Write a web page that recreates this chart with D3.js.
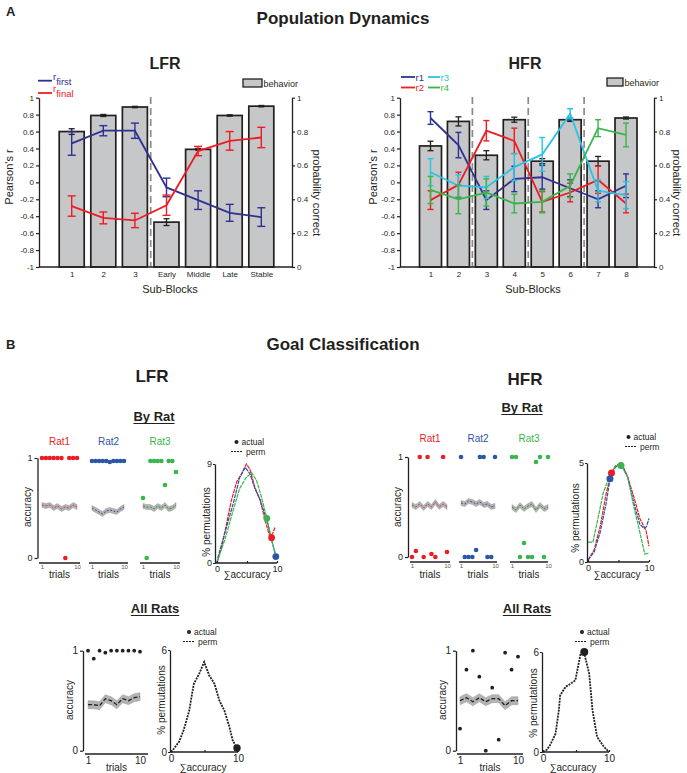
<!DOCTYPE html>
<html><head><meta charset="utf-8">
<script src="https://cdn.jsdelivr.net/npm/d3@7"></script>
<style>body{margin:0;background:#fff}svg{display:block}</style>
</head><body><svg id="c" width="687" height="773"></svg>
<script>
// ---------------- DATA ----------------
// A: LFR
const lfrCats = ["1","2","3","Early","Middle","Late","Stable"];
const lfrBehavior = [0.80, 0.895, 0.945, 0.265, 0.695, 0.895, 0.95];
const lfrBehaviorErr = [0.017, 0.006, 0.004, 0.02, 0.005, 0.004, 0.004];
const lfrFirst = [0.46, 0.61, 0.61, -0.06, -0.21, -0.36, -0.41];
const lfrFirstErr = [0.14, 0.06, 0.09, 0.11, 0.11, 0.1, 0.11];
const lfrFinal = [-0.28, -0.42, -0.45, -0.27, 0.37, 0.49, 0.53];
const lfrFinalErr = [0.12, 0.07, 0.085, 0.12, 0.055, 0.11, 0.12];
// A: HFR
const hfrCats = ["1","2","3","4","5","6","7","8"];
const hfrBehavior = [0.715, 0.86, 0.66, 0.87, 0.625, 0.87, 0.625, 0.88];
const hfrBehaviorErr = [0.028, 0.027, 0.027, 0.015, 0.015, 0.01, 0.028, 0.006];
const hfrR1 = [0.76, 0.44, -0.21, 0.04, 0.06, -0.07, -0.2, -0.04];
const hfrR1Err = [0.075, 0.15, 0.11, 0.15, 0.14, 0.1, 0.1, 0.14];
const hfrR2 = [-0.21, -0.03, 0.61, 0.49, -0.23, -0.12, 0.03, -0.25];
const hfrR2Err = [0.11, 0.15, 0.12, 0.15, 0.12, 0.11, 0.16, 0.11];
const hfrR3 = [0.12, -0.04, -0.06, 0.18, 0.33, 0.81, -0.1, -0.15];
const hfrR3Err = [0.16, 0.13, 0.13, 0.16, 0.2, 0.06, 0.13, 0.16];
const hfrR4 = [-0.09, -0.2, -0.12, -0.25, -0.23, -0.04, 0.64, 0.56];
const hfrR4Err = [0.16, 0.17, 0.16, 0.11, 0.13, 0.14, 0.1, 0.14];
const pearsonTicks = [-1,-0.8,-0.6,-0.4,-0.2,0,0.2,0.4,0.6,0.8,1];
const probTicks = [0,0.2,0.4,0.6,0.8,1];

// B: LFR by rat (trials 1..10)
const trials = [1,2,3,4,5,6,7,8,9,10];
const lfrRat1Acc = [1,1,1,1,1,1,0,1,1,1];
const lfrRat2Acc = [0.97,0.97,0.97,0.97,0.97,0.96,0.97,0.97,0.97,0.97];
const lfrRat3Acc = [0.6,0,0.97,0.97,0.97,0.97,0.73,0.97,0.97,0.86];
const lfrRat1Perm = [0.53,0.52,0.53,0.5,0.52,0.49,0.51,0.5,0.53,0.51];
const lfrRat2Perm = [0.5,0.48,0.46,0.44,0.47,0.48,0.47,0.46,0.49,0.51];
const lfrRat3Perm = [0.52,0.51,0.51,0.49,0.52,0.5,0.53,0.49,0.5,0.53];
const lfrRedDistX = [0,0.8,1.6,2.4,3.3,4.1,4.9,5.5,6.3,7.2,8.0,8.8,9.3,9.7];
const lfrRedDistY = [0,1.5,3.6,5.7,7.4,8.1,9.0,8.5,6.9,5.7,3.9,2.4,2.7,3.3];
const lfrBlueDistX = [0,0.2,1.6,2.7,3.8,4.7,5.5,6.3,7.2,8.3,9.1,9.8];
const lfrBlueDistY = [0,0.6,3.3,5.4,7.8,8.7,8.1,6.8,5.7,3.9,2.1,0.6];
const lfrGreenDistX = [0,1.3,2.7,3.8,4.9,5.8,6.6,7.4,8.3,9.1,9.8];
const lfrGreenDistY = [0.1,2.1,4.8,6.8,7.8,8.2,7.5,6.0,4.1,2.1,0.7];
const lfrActualX = [9.1, 9.8, 8.3];   // rat1, rat2, rat3
const lfrActualY = [2.3, 0.58, 4.06];

// B: HFR by rat
const hfrRat1Acc = [0,0.06,1,0,1,0.03,0,null,1,0.05];
const hfrRat2Acc = [1,0,0,0,0.07,1,1,0,0,1];
const hfrRat3Acc = [1,1,0,0.14,0,0,0.95,1,0,1];
const hfrRat1Perm = [0.52,0.5,0.53,0.49,0.53,0.5,0.55,0.5,0.53,0.5];
const hfrRat2Perm = [0.54,0.53,0.56,0.55,0.53,0.55,0.52,0.53,0.5,0.51];
const hfrRat3Perm = [0.5,0.47,0.52,0.48,0.51,0.53,0.47,0.52,0.48,0.5];
const hfrRedDistX = [0,1,2,3,3.85,4.5,5.5,6.5,7.5,8.5,9.5,10];
const hfrRedDistY = [0.1,0.6,1.8,3.5,4.5,4.85,5.0,4.3,3.3,2.2,1.6,0.8];
const hfrBlueDistX = [0,1,2,3,3.6,4.5,5.5,6.5,7.5,8.5,9.2,9.6,10];
const hfrBlueDistY = [0.1,0.5,1.5,3.0,4.2,4.8,4.9,4.3,3.0,1.9,1.7,1.8,2.2];
const hfrGreenDistX = [0,0.8,1.5,2.5,3.5,4.5,5.4,6.5,7.5,8.5,9.3,10];
const hfrGreenDistY = [1.0,1.0,2.0,3.5,4.3,4.85,4.9,4.3,2.8,1.5,0.4,0.45];
const hfrActualX = [3.85, 3.6, 5.4];
const hfrActualY = [4.5, 4.2, 4.88];

// B: All rats
const lfrAllAcc = [1,0.92,1,0.98,1,1,1,1,1,0.99];
const lfrAllPerm = [0.46,0.46,0.45,0.52,0.5,0.46,0.52,0.5,0.53,0.54];
const lfrAllDistX = [0,0.15,1.2,1.9,2.7,3.4,4.2,4.95,5.7,6.2,6.5,7.2,8.0,8.7,9.2,9.7,10];
const lfrAllDistY = [0,0.05,0.6,1.3,2.4,4.0,4.6,5.3,4.5,4.2,4.0,3.05,2.4,1.5,0.7,0.3,0];
const lfrAllActual = [9.85, 0.24];
const hfrAllAcc = [0.22,0.81,1.0,0.74,0.0,0.63,0.11,0.98,0.81,0.94];
const hfrAllPerm = [0.5,0.53,0.49,0.53,0.49,0.52,0.52,0.45,0.5,0.5];
const hfrAllDistX = [0,0.6,1.1,1.9,2.4,2.6,3.4,4.2,4.9,5.2,5.7,6.2,7.0,7.5,8.2,9.2,10];
const hfrAllDistY = [0,0.14,0.43,1.1,2.5,3.4,3.9,4.1,4.3,4.9,5.9,6.0,4.7,2.5,0.9,0.33,0];
const hfrAllActual = [6.25, 6.0];

// ---------------- DRAW ----------------
const FONT = '"Liberation Sans", Arial, Helvetica, sans-serif';
const INK = "#231f20";
const RED = "#ed1c24", NAVY = "#2e3192", CYAN = "#27c4e6", GREEN = "#39b54a";
const RBLUE = "#2b55a6";
const svg = d3.select("#c").attr("font-family", FONT);

function txt(x, y, s, o = {}) {
  const t = svg.append("text").attr("x", x).attr("y", y).text(s)
    .attr("font-size", o.size || 10).attr("text-anchor", o.anchor || "middle")
    .attr("fill", o.fill || INK);
  if (o.bold) t.attr("font-weight", "bold");
  if (o.rot != null) t.attr("transform", `rotate(${o.rot},${x},${y})`);
  if (o.underline) {
    const w = t.node().getComputedTextLength();
    const x0 = o.anchor === "start" ? x : x - w / 2;
    svg.append("line").attr("x1", x0).attr("x2", x0 + w).attr("y1", y + 2.5).attr("y2", y + 2.5)
      .attr("stroke", o.fill || INK).attr("stroke-width", 1.2);
  }
  return t;
}
function styleAxis(g, fs) {
  g.attr("font-family", FONT);
  g.selectAll("path.domain").attr("stroke", INK).attr("stroke-width", 1.3);
  g.selectAll(".tick line").attr("stroke", INK).attr("stroke-width", 1.2);
  g.selectAll(".tick text").attr("font-size", fs).attr("fill", INK);
}
function hline(x1, x2, y, w = 1.3, c = INK) {
  svg.append("line").attr("x1", x1).attr("x2", x2).attr("y1", y).attr("y2", y).attr("stroke", c).attr("stroke-width", w);
}
function vline(x, y1, y2, w = 1.3, c = INK) {
  svg.append("line").attr("x1", x).attr("x2", x).attr("y1", y1).attr("y2", y2).attr("stroke", c).attr("stroke-width", w);
}

// titles
txt(6, 16, "A", { size: 13, bold: true, anchor: "start" });
txt(343, 24, "Population Dynamics", { size: 17, bold: true });
txt(6, 349, "B", { size: 13, bold: true, anchor: "start" });
txt(343, 350, "Goal Classification", { size: 17, bold: true });

function topPanel(cfg) {
  const g = svg.append("g");
  const x = d3.scalePoint().domain(cfg.cats).range(cfg.xr);
  const yL = d3.scaleLinear().domain([-1, 1]).range([267, 97.7]);
  const yR = d3.scaleLinear().domain([0, 1]).range([267, 97.7]);
  // bars
  g.selectAll("rect.bar").data(cfg.cats).join("rect")
    .attr("x", d => x(d) - cfg.bw / 2).attr("width", cfg.bw)
    .attr("y", (d, i) => yR(cfg.beh[i])).attr("height", (d, i) => yR(0) - yR(cfg.beh[i]))
    .attr("fill", "#c6c7c8").attr("stroke", INK).attr("stroke-width", 1.7);
  cfg.cats.forEach((c, i) => {
    const cx = x(c), a = yR(cfg.beh[i] + cfg.behErr[i]), b = yR(cfg.beh[i] - cfg.behErr[i]);
    g.append("line").attr("x1", cx).attr("x2", cx).attr("y1", a).attr("y2", b).attr("stroke", INK).attr("stroke-width", 1.3);
    [a, b].forEach(yy => g.append("line").attr("x1", cx - 3).attr("x2", cx + 3).attr("y1", yy).attr("y2", yy).attr("stroke", INK).attr("stroke-width", 1.3));
  });
  // separators
  cfg.seps.forEach(i => {
    const xm = (x(cfg.cats[i]) + x(cfg.cats[i + 1])) / 2;
    g.append("line").attr("x1", xm).attr("x2", xm).attr("y1", 97).attr("y2", 267)
      .attr("stroke", "#8a8a8a").attr("stroke-width", 1.7).attr("stroke-dasharray", "7,4");
  });
  // series
  cfg.series.forEach(s => {
    const line = d3.line().x((d, i) => x(cfg.cats[i])).y(d => yL(d));
    g.append("path").attr("d", line(s.vals)).attr("fill", "none").attr("stroke", s.color).attr("stroke-width", 1.8);
    s.vals.forEach((v, i) => {
      const cx = x(cfg.cats[i]), a = yL(v + s.errs[i]), b = yL(v - s.errs[i]);
      g.append("line").attr("x1", cx).attr("x2", cx).attr("y1", a).attr("y2", b).attr("stroke", s.color).attr("stroke-width", 1.4);
      [a, b].forEach(yy => g.append("line").attr("x1", cx - cfg.cap).attr("x2", cx + cfg.cap).attr("y1", yy).attr("y2", yy).attr("stroke", s.color).attr("stroke-width", 1.4));
    });
  });
  // axes
  const la = g.append("g").attr("transform", `translate(${cfg.lx},0)`)
    .call(d3.axisLeft(yL).tickValues(pearsonTicks).tickSize(3).tickSizeOuter(0).tickPadding(2).tickFormat(d => String(+d.toFixed(1))));
  styleAxis(la, 8);
  const ra = g.append("g").attr("transform", `translate(${cfg.rx},0)`)
    .call(d3.axisRight(yR).tickValues(probTicks).tickSize(3).tickSizeOuter(0).tickPadding(2).tickFormat(d => String(+d.toFixed(1))));
  styleAxis(ra, 8);
  const ba = g.append("g").attr("transform", `translate(0,267)`)
    .call(d3.axisBottom(x).tickSize(0).tickPadding(4));
  ba.select("path.domain").remove();
  styleAxis(ba, 8);
  hline(cfg.lx, cfg.rx, 267, 1.4);
  // labels
  txt(cfg.titleX, 69, cfg.title, { size: 16, bold: true });
  txt(cfg.prX, 177, "Pearson's r", { size: 11, rot: -90 });
  txt(cfg.pcX, 193, "probability correct", { size: 11, rot: 90 });
  txt(cfg.sbX, 293, "Sub-Blocks", { size: 11 });
  // behavior legend
  svg.append("rect").attr("x", cfg.behLeg[0]).attr("y", cfg.behLeg[1]).attr("width", cfg.behLeg[2]).attr("height", 8)
    .attr("fill", "#c6c7c8").attr("stroke", INK).attr("stroke-width", 1.3);
  txt(cfg.behLeg[0] + cfg.behLeg[2] + 1.5, cfg.behLeg[1] + 7.5, "behavior", { size: 9, anchor: "start" });
}

topPanel({
  cats: lfrCats, xr: [71.7, 261.3], bw: 25, cap: 4, beh: lfrBehavior, behErr: lfrBehaviorErr,
  seps: [2], lx: 39, rx: 292, title: "LFR", titleX: 165, prX: 13, pcX: 313, sbX: 170,
  behLeg: [243, 79, 19],
  series: [{ vals: lfrFirst, errs: lfrFirstErr, color: NAVY }, { vals: lfrFinal, errs: lfrFinalErr, color: RED }]
});
topPanel({
  cats: hfrCats, xr: [430.5, 626], bw: 22, cap: 3, beh: hfrBehavior, behErr: hfrBehaviorErr,
  seps: [1, 3, 5], lx: 400, rx: 654, title: "HFR", titleX: 525, prX: 377, pcX: 673, sbX: 533,
  behLeg: [607, 78, 16],
  series: [{ vals: hfrR1, errs: hfrR1Err, color: NAVY }, { vals: hfrR2, errs: hfrR2Err, color: RED },
           { vals: hfrR3, errs: hfrR3Err, color: CYAN }, { vals: hfrR4, errs: hfrR4Err, color: GREEN }]
});
// LFR legend
hline(38, 52, 80.7, 1.8, NAVY);
hline(38, 52, 93, 1.8, RED);
{
  const t1 = txt(53, 80, "r", { size: 9.5, anchor: "start", fill: NAVY });
  t1.append("tspan").attr("dy", 5).attr("font-size", 9.5).text("first");
  const t2 = txt(53, 92, "r", { size: 9.5, anchor: "start", fill: RED });
  t2.append("tspan").attr("dy", 5).attr("font-size", 9.5).text("final");
}
// HFR legend
hline(401, 415, 77, 1.8, NAVY); txt(415.5, 80.5, "r1", { size: 9.5, anchor: "start", fill: NAVY });
hline(401, 415, 87.5, 1.8, RED); txt(415.5, 91, "r2", { size: 9.5, anchor: "start", fill: RED });
hline(428, 440, 77, 1.8, CYAN); txt(440.5, 80.5, "r3", { size: 9.5, anchor: "start", fill: CYAN });
hline(428, 440, 87.5, 1.8, GREEN); txt(440.5, 91, "r4", { size: 9.5, anchor: "start", fill: GREEN });

// ---- Section B headers
txt(152, 382, "LFR", { size: 17, bold: true });
txt(525, 385, "HFR", { size: 17, bold: true });
txt(154, 421, "By Rat", { size: 13, bold: true, underline: true });
txt(522, 412, "By Rat", { size: 13, bold: true, underline: true });
txt(155, 613, "All Rats", { size: 13, bold: true, underline: true });
txt(527, 613, "All Rats", { size: 13, bold: true, underline: true });

// trial plot
function trialPlot(cfg) {
  const x = d3.scaleLinear().domain([1, 10]).range(cfg.xr);
  const y = cfg.y;
  const pts = trials.map((t, i) => [t, cfg.perm[i]]);
  const area = d3.area().x(d => x(d[0])).y0(d => y(d[1] - cfg.band)).y1(d => y(d[1] + cfg.band));
  svg.append("path").attr("d", area(pts)).attr("fill", "#b3b3b3").attr("stroke", "#9a9a9a").attr("stroke-width", 0.5);
  svg.append("path").attr("d", d3.line().x(d => x(d[0])).y(d => y(d[1]))(pts)).attr("fill", "none")
    .attr("stroke", cfg.permColor).attr("stroke-width", cfg.permW || 1).attr("stroke-dasharray", cfg.permDash || "2,1.5");
  svg.append("g").selectAll("circle").data(trials.map((t, i) => [t, cfg.acc[i]]).filter(d => d[1] != null)).join("circle")
    .attr("cx", d => x(d[0])).attr("cy", d => y(d[1])).attr("r", cfg.r).attr("fill", cfg.color);
  // x axis
  const ax = svg.append("g").attr("transform", `translate(0,${cfg.axisY})`)
    .call(d3.axisBottom(x).tickValues([1, 10]).tickSize(0).tickPadding(cfg.tickPad || 2).tickFormat(d3.format("d")));
  ax.select("path.domain").remove();
  styleAxis(ax, cfg.tickFs);
  ax.selectAll(".tick text").attr("fill", cfg.tickFill || INK);
  hline(cfg.axisX[0], cfg.axisX[1], cfg.axisY, 1.4);
  txt((cfg.axisX[0] + cfg.axisX[1]) / 2, cfg.trialsY, "trials", { size: 10 });
  if (cfg.label) txt((cfg.axisX[0] + cfg.axisX[1]) / 2, cfg.label[1], cfg.label[0], { size: 10, fill: cfg.color });
}
function accAxis(xPos, y, fs, labX, labY) {
  const a = svg.append("g").attr("transform", `translate(${xPos},0)`)
    .call(d3.axisLeft(y).tickValues([0, 1]).tickSize(3).tickSizeOuter(0).tickPadding(2).tickFormat(d3.format("d")));
  styleAxis(a, fs);
  txt(labX, labY, "accuracy", { size: 10, rot: -90 });
}
function distPanel(cfg) {
  const x = d3.scaleLinear().domain([0, 10]).range(cfg.xr);
  const y = d3.scaleLinear().domain([0, cfg.ymax]).range(cfg.yr);
  cfg.curves.forEach(c => {
    const pts = c.xs.map((v, i) => [v, c.ys[i]]);
    svg.append("path").attr("d", d3.line().x(d => x(d[0])).y(d => y(d[1]))(pts)).attr("fill", "none")
      .attr("stroke", c.color).attr("stroke-width", c.w || 1.2).attr("stroke-dasharray", c.dash || null);
  });
  cfg.dots.forEach(d => svg.append("circle").attr("cx", x(d.x)).attr("cy", y(d.y)).attr("r", d.r).attr("fill", d.color));
  const ya = svg.append("g").attr("transform", `translate(${cfg.ax},0)`)
    .call(d3.axisLeft(y).tickValues([0, cfg.ymax]).tickSize(2).tickSizeOuter(0).tickPadding(1).tickFormat(d3.format("d")));
  styleAxis(ya, cfg.fs);
  const xa = svg.append("g").attr("transform", `translate(0,${cfg.yr[0]})`)
    .call(d3.axisBottom(x).tickValues([0, 5, 10]).tickSize(-2).tickSizeOuter(0).tickPadding(3).tickFormat(d => d === 5 ? "" : d));
  xa.select("path.domain").remove();
  styleAxis(xa, cfg.fs);
  hline(cfg.ax, cfg.xr[1], cfg.yr[0], 1.4);
  txt(cfg.pLab[0], cfg.pLab[1], "% permutations", { size: 10, rot: -90 });
  txt(cfg.sLab[0], cfg.sLab[1], "\u2211accuracy", { size: 10 });
  // legend
  const L = cfg.leg;
  svg.append("circle").attr("cx", L[0]).attr("cy", L[1]).attr("r", 2).attr("fill", INK);
  txt(L[0] + 5, L[1] + 3, "actual", { size: 8.5, anchor: "start" });
  svg.append("line").attr("x1", L[2]).attr("x2", L[2] + 12).attr("y1", L[1] + 9.5).attr("y2", L[1] + 9.5)
    .attr("stroke", INK).attr("stroke-width", 1.2).attr("stroke-dasharray", "2,1");
  txt(L[2] + 15, L[1] + 12.5, "perm", { size: 8.5, anchor: "start" });
}

// LFR by rat
const yLR = d3.scaleLinear().domain([0, 1]).range([558, 458]);
accAxis(37.5, yLR, 9, 31, 507);
const lfrRatCfg = [
  { acc: lfrRat1Acc, perm: lfrRat1Perm, color: RED, permColor: "#b5474c", xr: [42, 77], axisX: [39, 80], label: ["Rat1", 445] },
  { acc: lfrRat2Acc, perm: lfrRat2Perm, color: RBLUE, permColor: "#44579a", xr: [92, 124], axisX: [89, 128], label: ["Rat2", 445] },
  { acc: lfrRat3Acc, perm: lfrRat3Perm, color: GREEN, permColor: "#3f8a45", xr: [143, 176], axisX: [140, 180], label: ["Rat3", 445] }
];
lfrRatCfg.forEach(c => trialPlot(Object.assign({ y: yLR, band: 0.025, r: 2.3, axisY: 563, tickFs: 6, tickFill: "#555", trialsY: 578 }, c)));
distPanel({
  xr: [217, 277], yr: [563, 464], ymax: 9, ax: 215, fs: 9,
  curves: [{ xs: lfrRedDistX, ys: lfrRedDistY, color: RED, dash: "4,0.8" },
           { xs: lfrBlueDistX, ys: lfrBlueDistY, color: RBLUE, dash: "4,0.8" },
           { xs: lfrGreenDistX, ys: lfrGreenDistY, color: GREEN, dash: "4,0.8" }],
  dots: [{ x: lfrActualX[2], y: lfrActualY[2], color: GREEN, r: 3.4 },
         { x: lfrActualX[0], y: lfrActualY[0], color: RED, r: 3.4 },
         { x: lfrActualX[1], y: lfrActualY[1], color: RBLUE, r: 3.4 }],
  pLab: [210, 522], sLab: [247, 578], leg: [236.5, 442, 231]
});

// HFR by rat
const yHR = d3.scaleLinear().domain([0, 1]).range([557, 457]);
accAxis(408, yHR, 9, 401, 507);
const hfrRatCfg = [
  { acc: hfrRat1Acc, perm: hfrRat1Perm, color: RED, permColor: "#b5474c", xr: [412, 447], axisX: [410, 450], label: ["Rat1", 442] },
  { acc: hfrRat2Acc, perm: hfrRat2Perm, color: RBLUE, permColor: "#44579a", xr: [461, 495], axisX: [459, 497], label: ["Rat2", 442] },
  { acc: hfrRat3Acc, perm: hfrRat3Perm, color: GREEN, permColor: "#3f8a45", xr: [512, 548], axisX: [510, 548], label: ["Rat3", 442] }
];
hfrRatCfg.forEach(c => trialPlot(Object.assign({ y: yHR, band: 0.025, r: 2.3, axisY: 562, tickFs: 6, tickFill: "#555", trialsY: 578 }, c)));
distPanel({
  xr: [588, 649], yr: [562, 463], ymax: 5, ax: 587, fs: 9,
  curves: [{ xs: hfrRedDistX, ys: hfrRedDistY, color: RED, dash: "4,0.8" },
           { xs: hfrBlueDistX, ys: hfrBlueDistY, color: RBLUE, dash: "4,0.8" },
           { xs: hfrGreenDistX, ys: hfrGreenDistY, color: GREEN, dash: "4,0.8" }],
  dots: [{ x: hfrActualX[0], y: hfrActualY[0], color: RED, r: 3.5 },
         { x: hfrActualX[1], y: hfrActualY[1], color: RBLUE, r: 3.5 },
         { x: hfrActualX[2], y: hfrActualY[2], color: GREEN, r: 3.5 }],
  pLab: [579, 518], sLab: [617, 578], leg: [628.5, 437, 625]
});

// All rats LFR
const yLA = d3.scaleLinear().domain([0, 1]).range([750.7, 650.7]);
accAxis(83, yLA, 10, 72.5, 700);
trialPlot({ y: yLA, acc: lfrAllAcc, perm: lfrAllPerm, color: INK, permColor: INK, permW: 1.3, permDash: "4,2",
  band: 0.04, r: 1.9, xr: [88, 140], axisX: [85, 148], axisY: 754, tickFs: 10, tickPad: 3, trialsY: 771 });
distPanel({
  xr: [171, 238], yr: [752, 650], ymax: 6, ax: 170, fs: 10,
  curves: [{ xs: lfrAllDistX, ys: lfrAllDistY, color: INK, dash: "2,1", w: 1.8 }],
  dots: [{ x: lfrAllActual[0], y: lfrAllActual[1], color: INK, r: 3.7 }],
  pLab: [165, 700], sLab: [203, 771], leg: [189, 632, 183]
});

// All rats HFR
const yHA = d3.scaleLinear().domain([0, 1]).range([750.7, 650.7]);
accAxis(456, yHA, 10, 446, 700);
trialPlot({ y: yHA, acc: hfrAllAcc, perm: hfrAllPerm, color: INK, permColor: INK, permW: 1.3, permDash: "4,2",
  band: 0.04, r: 1.9, xr: [460, 518], axisX: [457, 523], axisY: 754, tickFs: 10, tickPad: 3, trialsY: 771 });
distPanel({
  xr: [543, 609], yr: [752, 652], ymax: 6, ax: 542, fs: 10,
  curves: [{ xs: hfrAllDistX, ys: hfrAllDistY, color: INK, dash: "2,1", w: 1.8 }],
  dots: [{ x: hfrAllActual[0], y: hfrAllActual[1], color: INK, r: 4 }],
  pLab: [537, 703], sLab: [573, 771], leg: [582, 632, 575]
});
</script></body></html>
